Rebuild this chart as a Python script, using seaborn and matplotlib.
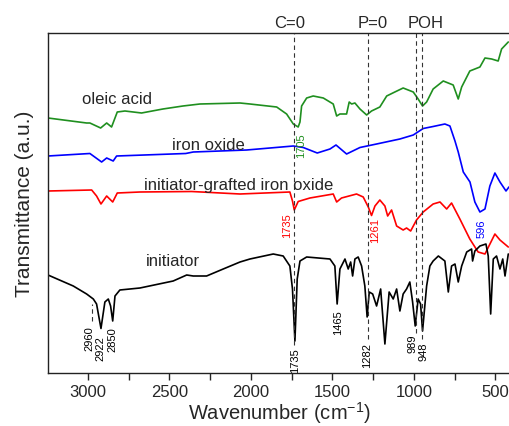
import matplotlib
matplotlib.use('Agg')
import matplotlib.pyplot as plt
import seaborn as sns

# Espectros FTIR (numero de onda em cm-1, transmitancia com deslocamento vertical)
oleic_wn = [3245, 3008, 2988, 2922, 2885, 2855, 2820, 2773, 2671, 2540, 2417, 2313, 2067, 2006,
            1842, 1781, 1740, 1710, 1699, 1689, 1658, 1618, 1556, 1495, 1474, 1454, 1413, 1397,
            1382, 1362, 1331, 1290, 1260, 1209, 1167, 1117, 1066, 1004, 974, 947, 922, 882, 820,
            759, 728, 707, 657, 595, 564, 523, 483, 462, 421]
oleic_t = [255, 250, 250, 245, 250, 246, 261, 262, 260, 264, 267, 269, 270, 269,
           266, 259, 249, 246, 251, 267, 275, 277, 275, 269, 257, 259, 259, 271,
           269, 270, 264, 258, 262, 266, 277, 281, 285, 281, 274, 267, 271, 284, 292,
           288, 274, 286, 302, 306, 315, 314, 312, 324, 331]

iron_wn = [3245, 2988, 2916, 2885, 2845, 2824, 2400, 2354, 2026, 1740, 1679, 1593, 1515, 1478,
           1413, 1331, 1229, 1086, 1004, 943, 882, 810, 779, 748, 728, 697, 656, 626, 595, 564,
           534, 503, 472, 435, 417]
iron_t = [217, 219.5, 211, 215, 212, 217, 219.5, 221, 223, 227, 225.5, 220, 224, 228,
          219, 225.5, 229, 234, 238, 244.5, 246.5, 249, 247, 232, 221, 201, 191, 171, 161, 164,
          187, 200, 191, 182, 186]

graft_wn = [3245, 2977, 2947, 2920, 2885, 2848, 2820, 2681, 2364, 2067, 1761, 1745, 1734, 1710,
            1638, 1495, 1474, 1444, 1352, 1311, 1280, 1260, 1239, 1209, 1178, 1161, 1137, 1106,
            1066, 1045, 1020, 984, 943, 882, 840, 799, 769, 718, 657, 606, 564, 503, 472, 421]
graft_t = [182, 183, 177, 169, 177, 171, 180, 181, 181.5, 179, 181, 172, 163, 171.5,
           175, 179, 171, 175, 179, 176, 166, 157.5, 167, 173, 167, 157, 163, 147,
           143, 145, 142, 153, 161, 169, 171, 164, 170, 154, 134, 121, 119, 139, 133, 126]

init_wn = [3245, 3090, 3008, 2967, 2947, 2920, 2896, 2875, 2861, 2848, 2834, 2804, 2681, 2477,
           2394, 2354, 2272, 2170, 2067, 2006, 1863, 1802, 1761, 1745, 1730, 1716, 1699, 1658,
           1515, 1485, 1471, 1454, 1423, 1403, 1388, 1376, 1362, 1342, 1321, 1301, 1287, 1274,
           1253, 1229, 1204, 1178, 1152, 1127, 1106, 1086, 1066, 1045, 1025, 1008, 992, 974,
           959, 947, 922, 902, 882, 850, 810, 789, 769, 748, 728, 707, 676, 646, 640, 626,
           595, 558, 544, 529, 513, 493, 472, 455, 441, 421]
init_t = [98, 87, 79, 74, 69, 44.5, 71, 74, 67, 52, 77, 83, 85, 92,
          98, 97, 97, 104, 111, 114, 119, 117, 107, 84, 32, 94, 112, 116,
          114, 107, 69, 104, 114, 104, 111, 97, 114, 116, 107, 87, 56, 81,
          79, 67, 84, 29, 81, 74, 84, 62, 79, 84, 91, 71, 47, 74,
          69, 42, 87, 107, 112, 117, 112, 81, 107, 109, 91, 107, 121, 124, 112, 122,
          127, 129, 117, 59, 114, 117, 104, 114, 97, 119]

curve_names = ['oleic acid', 'iron oxide', 'initiator-grafted iron oxide', 'initiator']
curve_colors = ['#1f8f1f', '#0000ff', '#ff0000', '#000000']
name_wn = [2822, 2264, 2074, 2479]
name_t = [275, 228, 188, 112]

# linhas tracejadas das bandas
band_wn = [1735, 1282, 989, 948]
band_bottom = [28, 34, 40, 34]
band_names = ['C=0', 'P=0', 'POH']
band_name_wn = [1764, 1252, 926]

# rotulos dos picos
peak_lbl = ['2960', '2922', '2850', '1735', '1465', '1282', '989', '948',
            '1735', '1261', '1705', '596']
peak_wn = [2990, 2926, 2850, 1730, 1466, 1288, 1010, 944, 1777, 1239, 1695, 585]
peak_top = [48, 38, 47, 26, 64, 31, 39, 31, 161, 156, 241, 154]
peak_color = ['k'] * 8 + ['#ff0000', '#ff0000', '#1f8f1f', '#0000ff']

sns.set_style('white')
plt.rcParams['font.family'] = ['Liberation Sans', 'DejaVu Sans']
plt.rcParams['mathtext.fontset'] = 'custom'
plt.rcParams['mathtext.rm'] = 'Liberation Sans'

fig = plt.figure(figsize=(5.09, 4.27), dpi=100)
ax = fig.add_axes([48 / 509, 53 / 427, 463.7 / 509, 340 / 427])

series = [(oleic_wn, oleic_t), (iron_wn, iron_t), (graft_wn, graft_t), (init_wn, init_t)]
for (wn, t), cor in zip(series, curve_colors):
    sns.lineplot(x=wn, y=t, color=cor, linewidth=1.2, sort=False, ax=ax)

for nome, xw, yt in zip(curve_names, name_wn, name_t):
    ax.text(xw, yt, nome, fontsize=12, ha='center', va='center')

for xw, yb in zip(band_wn, band_bottom):
    ax.plot([xw, xw], [yb, 340], ls=(0, (4, 3)), color='#333333', lw=0.8)
ax.plot([2975, 2975], [52, 69], ls=(0, (4, 3)), color='#333333', lw=0.8)

for nome, xw in zip(band_names, band_name_wn):
    ax.text(xw, 350, nome, fontsize=12, ha='center', va='center', clip_on=False)

for lbl, xw, yt, cor in zip(peak_lbl, peak_wn, peak_top, peak_color):
    ax.text(xw, yt, lbl, fontsize=8, rotation=90, ha='center', va='top', color=cor)

ax.set_xlim(3245, 400)
ax.set_ylim(0, 340)
ax.set_xticks([3000, 2500, 2000, 1500, 1000, 500])
ax.set_xticks([2750, 2250, 1750, 1250, 750], minor=True)
ax.tick_params(axis='x', which='both', direction='out', length=5, width=1, pad=3,
               labelsize=12, bottom=True)
ax.set_yticks([])
for lado in ['left', 'bottom', 'top']:
    ax.spines[lado].set_color('#222222')
    ax.spines[lado].set_linewidth(1)
ax.spines['right'].set_visible(False)

ax.set_xlabel('Wavenumber (cm$^{-1}$)', fontsize=14.5, labelpad=0)
ax.set_ylabel('Transmittance (a.u.)', fontsize=15, labelpad=10)

fig.savefig('out.png', dpi=100)
